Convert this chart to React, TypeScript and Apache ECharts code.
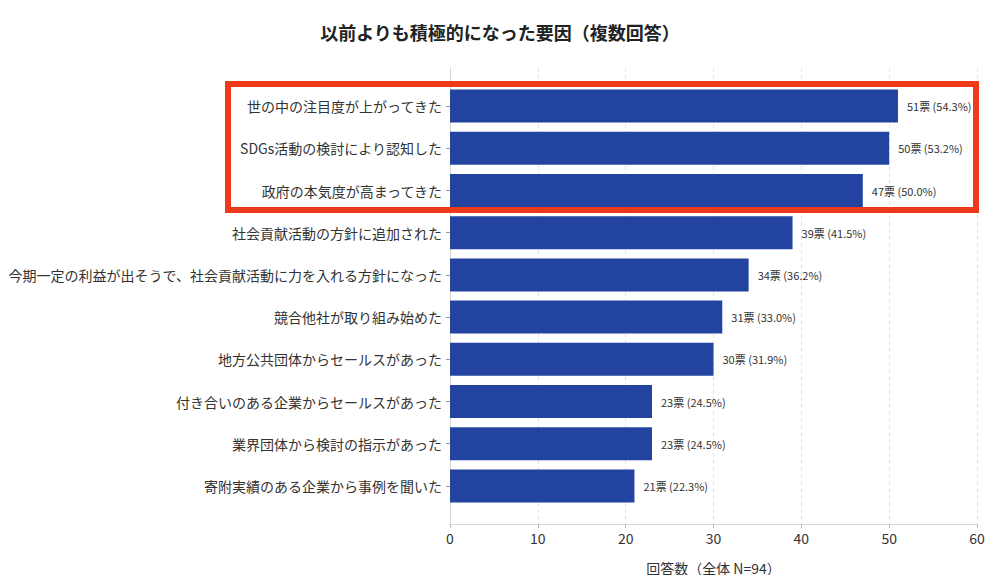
import React, { useEffect, useRef } from 'react';
import * as echarts from 'echarts';

// 回答項目（上から順）
const categories = [
  '世の中の注目度が上がってきた',
  'SDGs活動の検討により認知した',
  '政府の本気度が高まってきた',
  '社会貢献活動の方針に追加された',
  '今期一定の利益が出そうで、社会貢献活動に力を入れる方針になった',
  '競合他社が取り組み始めた',
  '地方公共団体からセールスがあった',
  '付き合いのある企業からセールスがあった',
  '業界団体から検討の指示があった',
  '寄附実績のある企業から事例を聞いた',
];
const votes = [51, 50, 47, 39, 34, 31, 30, 23, 23, 21];
const percents = ['54.3', '53.2', '50.0', '41.5', '36.2', '33.0', '31.9', '24.5', '24.5', '22.3'];
const xTicks = { min: 0, max: 60, interval: 10 };

const FONT = '"Noto Sans CJK JP", "Noto Sans", sans-serif';

const App = () => {
  const chartRef = useRef<HTMLDivElement>(null);

  useEffect(() => {
    if (!chartRef.current) return;
    const chart = echarts.init(chartRef.current, null, { renderer: 'svg' });

    const options = {
      animation: false,
      textStyle: { fontFamily: FONT },
      title: {
        text: '以前よりも積極的になった要因（複数回答）',
        left: 'center',
        top: 18,
        textStyle: { fontSize: 18, fontWeight: 'bold', color: '#222', fontFamily: FONT },
      },
      grid: [
        // バー用
        { left: 450, right: 23, top: 85, height: 422 },
        // 軸・グリッド線用
        { left: 450, right: 23, top: 68, height: 456 },
      ],
      xAxis: [
        {
          gridIndex: 0,
          type: 'value',
          ...xTicks,
          show: false,
        },
        {
          gridIndex: 1,
          type: 'value',
          ...xTicks,
          name: '回答数（全体 N=94）',
          nameLocation: 'middle',
          nameGap: 37,
          nameTextStyle: { fontSize: 14, color: '#333' },
          axisLine: { show: true, lineStyle: { color: '#d6d6d6' } },
          axisTick: { show: true, length: 4, lineStyle: { color: '#bbb' } },
          axisLabel: { fontSize: 14, color: '#333', margin: 7 },
          splitLine: { show: true, lineStyle: { color: '#e4e4e4', type: [4, 3] } },
        },
      ],
      yAxis: [
        {
          gridIndex: 0,
          type: 'category',
          data: categories,
          inverse: true,
          axisLine: { show: false },
          axisTick: { show: true, length: 4, inside: false, alignWithLabel: true, lineStyle: { color: '#999' } },
          axisLabel: { fontSize: 14, color: '#333', margin: 8 },
        },
        {
          gridIndex: 1,
          type: 'category',
          data: [''],
          axisLine: { show: true, lineStyle: { color: '#d6d6d6' } },
          axisTick: { show: false },
          axisLabel: { show: false },
        },
      ],
      series: [
        {
          type: 'bar',
          xAxisIndex: 0,
          yAxisIndex: 0,
          data: votes,
          barWidth: 33,
          itemStyle: { color: '#2244a0' },
          label: {
            show: true,
            position: 'right',
            distance: 9,
            fontSize: 11,
            color: '#333',
            formatter: (p: any) => `${p.value}票 (${percents[p.dataIndex]}%)`,
          },
        },
      ],
      graphic: [
        {
          type: 'rect',
          shape: { x: 228, y: 84, width: 748, height: 126 },
          style: { fill: 'none', stroke: '#ee3a19', lineWidth: 6 },
          z: 100,
        },
      ],
    };

    chart.setOption(options);

    return () => {
      chart.dispose();
    };
  }, []);

  return <div ref={chartRef} style={{ width: 1000, height: 583, margin: -8 }} />;
};

export default App;
